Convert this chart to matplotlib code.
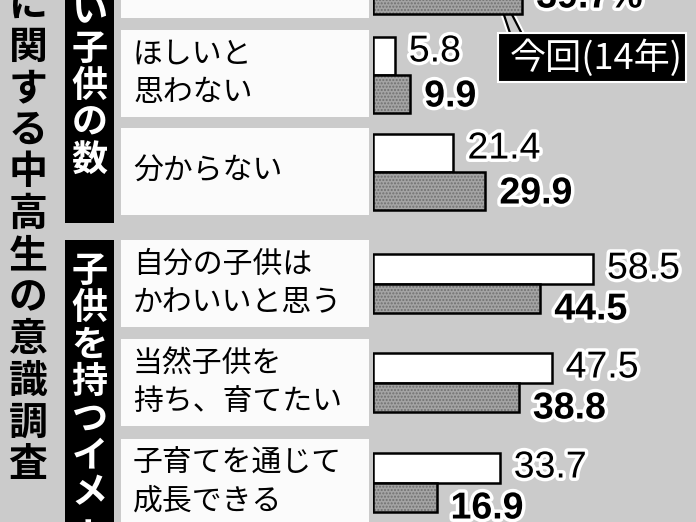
import numpy as np
import matplotlib
matplotlib.use('Agg')
import matplotlib.pyplot as plt
from matplotlib.patches import Rectangle, Polygon
import matplotlib.patheffects as pe
from matplotlib.transforms import ScaledTranslation

# ---------------- data ----------------
categories = ["", "ほしいと\n思わない", "分からない",
              "自分の子供は\nかわいいと思う", "当然子供を\n持ち、育てたい",
              "子育てを通じて\n成長できる"]
prev_values = [np.nan, 5.8, 21.4, 58.5, 47.5, 33.7]   # white bars (前回)
curr_values = [39.7, 9.9, 29.9, 44.5, 38.8, 16.9]     # gray bars (今回 14年)
group_labels = ["ほしい子供の数", "子供を持つイメージ"]
title_text = "に関する中高生の意識調査"
legend_label = "今回(14年)"

# ---------------- layout ----------------
W, H = 696, 522
BG = '#cbcbcb'
JP = ['Noto Sans CJK JP', 'DejaVu Sans']
NUM = ['Liberation Sans', 'DejaVu Sans']

fig = plt.figure(figsize=(W / 100, H / 100), dpi=100)
fig.patch.set_facecolor(BG)
ax = fig.add_axes([0, 0, 1, 1])
ax.set_xlim(0, W)
ax.set_ylim(H, 0)
ax.axis('off')
ax.patch.set_alpha(0)

row_tops = [-69, 30, 128, 240, 339, 439]
row_group = [0, 0, 0, 1, 1, 1]
box_h = 87
bar_heights = [38, 38, 38, 29.5, 29.5, 29.5]
bar_x0 = 373
px_per_unit = 3.76


def vchar(x, y, ch, **kw):
    """Draw one character of vertical writing (long vowel mark rotated)."""
    if y < -18 or y > H + 18:
        return
    rot = 90 if ch == 'ー' else 0
    ax.text(x, y, ch, ha='center', va='center', rotation=rot, family=JP, **kw)


# title column (vertical)
title_y0, title_pitch = 5.2, 41.8
for i, ch in enumerate(title_text):
    vchar(28, title_y0 + i * title_pitch, ch, fontsize=28, fontweight='bold',
          color='black')

# black group bands
ax.add_patch(Rectangle((65, -20), 49, 243, facecolor='black', edgecolor='none'))
ax.add_patch(Rectangle((65, 240), 49, 300, facecolor='black', edgecolor='none'))
band_starts = [12 - 2 * 37, 271]
for lab, y0 in zip(group_labels, band_starts):
    for i, ch in enumerate(lab):
        vchar(89.5, y0 + i * 37, ch, fontsize=26, fontweight='bold', color='white')

# white label boxes + labels
for top, cat in zip(row_tops, categories):
    ax.add_patch(Rectangle((121, top), 248, box_h, facecolor='#fbfbfb', edgecolor='none'))
    lines = cat.split('\n')
    c = top + box_h / 2
    n = len(lines)
    for j, ln in enumerate(lines):
        y = c + (j - (n - 1) / 2) * 38
        ax.text(133, y, ln, ha='left', va='center', fontsize=21.5,
                family=JP, color='black')

# ---------------- bars ----------------
bx = fig.add_axes([bar_x0 / W, 0, (W - bar_x0) / W, 1])
bx.set_xlim(0, (W - bar_x0) / px_per_unit)
bx.set_ylim(H, 0)
bx.axis('off')
bx.patch.set_alpha(0)

centers = np.array(row_tops) + box_h / 2 + np.array([1, 1, 0, 0, 0, 0])
bh = np.array(bar_heights)
prev = np.array(prev_values, dtype=float)
curr = np.array(curr_values, dtype=float)

bx.barh(centers - bh / 2, np.nan_to_num(prev), height=bh, color='white',
        edgecolor='black', linewidth=1.8, zorder=3)
# stippled gray fill, then black outline
bx.barh(centers + bh / 2, curr, height=bh, color='#a4a4a4',
        edgecolor='#707070', hatch='.....', linewidth=0, zorder=3)
bx.barh(centers + bh / 2, curr, height=bh, fill=False,
        edgecolor='black', linewidth=1.8, zorder=4)

off = ScaledTranslation(14 / 100, 0, fig.dpi_scale_trans)
halo = [pe.withStroke(linewidth=5, foreground='white')]
white_off = [-23, -15]
gray_off = [22, 26]
for i in range(len(categories)):
    g = row_group[i]
    if not np.isnan(prev[i]):
        bx.text(prev[i], centers[i] + white_off[g], f"{prev[i]:.1f}", ha='left',
                va='center', fontsize=27, family=NUM, color='black',
                transform=bx.transData + off, path_effects=halo, zorder=5)
    lab = f"{curr[i]:.1f}" + ("%" if i == 0 else "")
    bx.text(curr[i], centers[i] + gray_off[g], lab, ha='left', va='center',
            fontsize=27, fontweight='bold', family=NUM, color='black',
            transform=bx.transData + off, path_effects=halo, zorder=5)

# ---------------- legend callout ----------------
tail = Polygon([(489, -30), (511, 36), (523, 36)], closed=True,
               facecolor=BG, edgecolor='black', linewidth=1.6, zorder=6,
               path_effects=[pe.withStroke(linewidth=4.5, foreground='white')])
ax.add_patch(tail)
ax.add_patch(Rectangle((498, 33), 188, 49, facecolor='black', edgecolor='white',
                       linewidth=1.5, zorder=7))
ax.text(596, 58, legend_label, ha='center', va='center', fontsize=26,
        family=JP, color='white', zorder=8)

fig.savefig('out.png', dpi=100, facecolor=BG)
